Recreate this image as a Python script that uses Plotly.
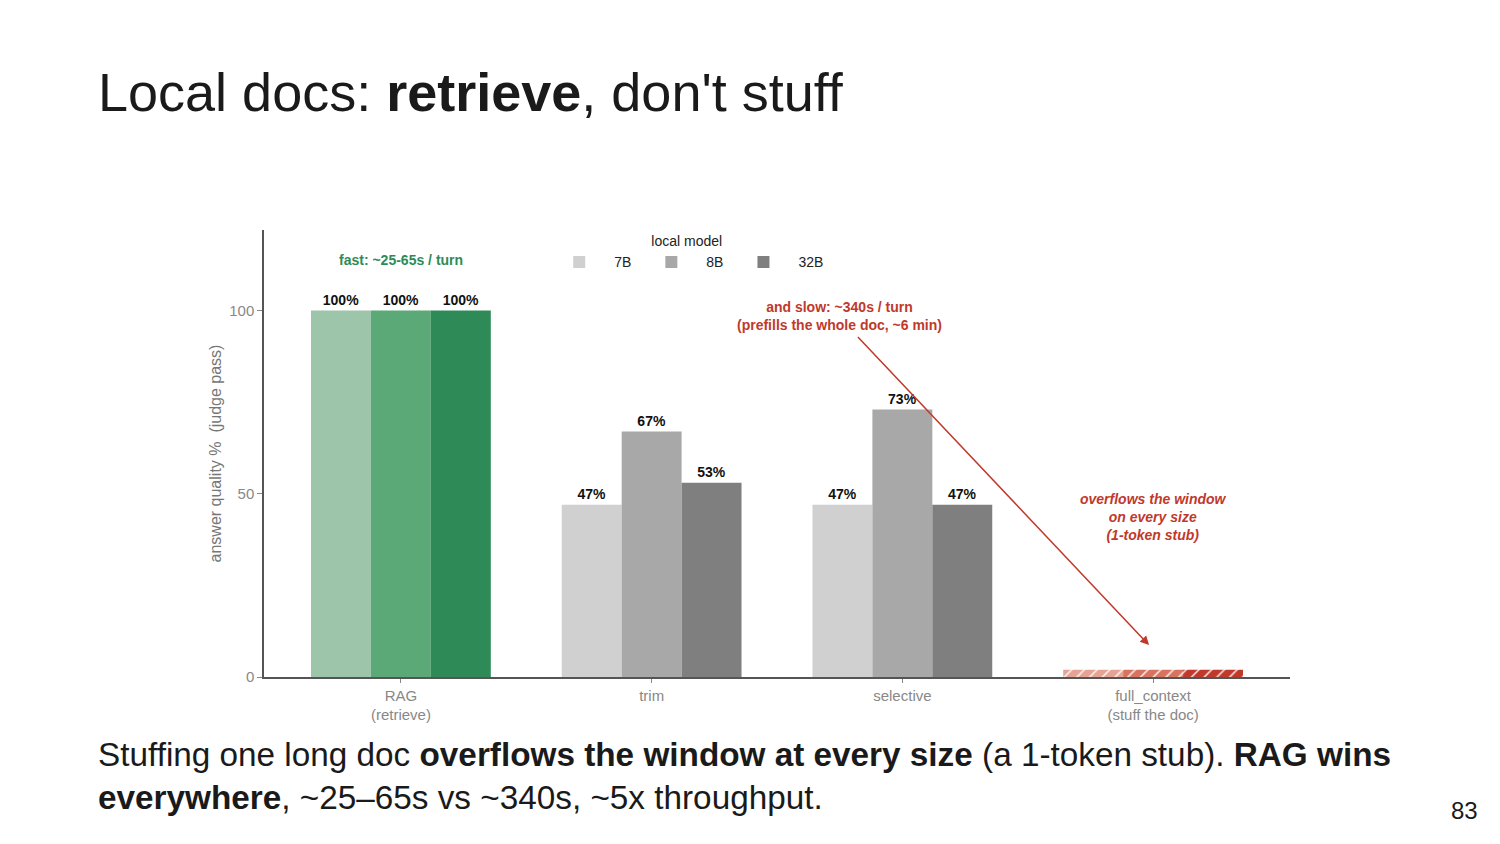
import plotly.graph_objects as go


CATEGORIES = ["RAG", "trim", "selective", "full_context"]
TICK_LABELS = ["RAG<br>(retrieve)", "trim", "selective", "full_context<br>(stuff the doc)"]
MODELS = ["7B", "8B", "32B"]

RAG_SCORES = {"7B": 100, "8B": 100, "32B": 100}
TRIM_SCORES = {"7B": 47, "8B": 67, "32B": 53}
SELECTIVE_SCORES = {"7B": 47, "8B": 73, "32B": 47}
FULL_CONTEXT_SCORES = {"7B": 2, "8B": 2, "32B": 2}

GREEN = {"7B": "#9dc5aa", "8B": "#5aa977", "32B": "#2e8b57"}
GRAY = {"7B": "#d0d0d0", "8B": "#a8a8a8", "32B": "#7f7f7f"}
RED = {"7B": "#e6a394", "8B": "#d8735f", "32B": "#c0392b"}

FONT = "Liberation Sans, Arial, sans-serif"
LABEL_FONT = dict(family=FONT, size=14, color="#111111", weight="bold")


def build_figure():
    fig = go.Figure()
    for model in MODELS:
        fig.add_trace(
            go.Bar(
                x=["RAG"],
                y=[RAG_SCORES[model]],
                name=model,
                offsetgroup=model,
                marker_color=GREEN[model],
                marker_line_width=0,
                text=[f"{RAG_SCORES[model]}%"],
                textposition="outside",
                textfont=LABEL_FONT,
                cliponaxis=False,
                showlegend=False,
            )
        )
        gray_y = [TRIM_SCORES[model], SELECTIVE_SCORES[model]]
        fig.add_trace(
            go.Bar(
                x=["trim", "selective"],
                y=gray_y,
                name=model,
                offsetgroup=model,
                marker_color=GRAY[model],
                marker_line_width=0,
                text=[f"{v}%" for v in gray_y],
                textposition="outside",
                textfont=LABEL_FONT,
                cliponaxis=False,
            )
        )
        fig.add_trace(
            go.Bar(
                x=["full_context"],
                y=[FULL_CONTEXT_SCORES[model]],
                name=model,
                offsetgroup=model,
                marker=dict(
                    color=RED[model],
                    line_width=0,
                    pattern=dict(
                        shape="/",
                        fillmode="replace",
                        bgcolor=RED[model],
                        fgcolor="white",
                        size=9,
                        solidity=0.15,
                    ),
                ),
                showlegend=False,
            )
        )

    # page body adds 8px offset, so margins are nudged to land on the slide positions
    fig.update_layout(
        width=1500,
        height=844,
        template="plotly_white",
        paper_bgcolor="white",
        plot_bgcolor="white",
        font=dict(family=FONT, color="#222222"),
        barmode="group",
        bargap=0.283,
        bargroupgap=0,
        margin=dict(l=256, r=218, t=222, b=175),
        legend=dict(
            orientation="h",
            x=0.412,
            y=1.004,
            xanchor="center",
            yanchor="top",
            title=dict(text="local model", side="top center", font=dict(size=14, color="#222")),
            font=dict(size=14, color="#222"),
            itemwidth=60,
            traceorder="normal",
        ),
    )
    fig.update_xaxes(
        categoryorder="array",
        categoryarray=CATEGORIES,
        tickvals=CATEGORIES,
        ticktext=TICK_LABELS,
        range=[-0.546, 3.546],
        showgrid=False,
        showline=True,
        linecolor="#555555",
        linewidth=1.5,
        ticks="outside",
        ticklen=4,
        tickcolor="#888888",
        tickfont=dict(size=15, color="#888888"),
    )
    fig.update_yaxes(
        range=[0, 122],
        tickvals=[0, 50, 100],
        showgrid=False,
        zeroline=False,
        showline=True,
        linecolor="#555555",
        linewidth=1.5,
        ticks="outside",
        ticklen=5,
        tickcolor="#888888",
        tickfont=dict(size=15, color="#888888"),
        title=dict(text="answer quality %  (judge pass)", font=dict(size=16, color="#777777"), standoff=4),
    )

    fig.add_annotation(
        x="RAG", y=113.7, text="<b>fast: ~25-65s / turn</b>", showarrow=False,
        font=dict(size=14, color="#2e8b57"),
    )
    fig.add_annotation(
        x=1.749, y=98.6, xref="x", yref="y",
        text="<b>and slow: ~340s / turn<br>(prefills the whole doc, ~6 min)</b>",
        showarrow=False, font=dict(size=14, color="#c0392b"),
    )
    fig.add_annotation(
        x=2.984, y=8.7, ax=1.817, ay=93.2, xref="x", yref="y", axref="x", ayref="y",
        text="", showarrow=True, arrowhead=2, arrowsize=1.2, arrowwidth=1.5,
        arrowcolor="#c0392b",
    )
    fig.add_annotation(
        x=3, y=43.7, xref="x", yref="y",
        text="<b><i>overflows the window<br>on every size<br>(1-token stub)</i></b>",
        showarrow=False, font=dict(size=14, color="#c0392b"),
    )

    # slide text
    fig.add_annotation(
        x=-0.1637, y=1.309, xref="paper", yref="paper", xanchor="left", yanchor="middle",
        text="Local docs: <b>retrieve</b>, don't stuff", showarrow=False,
        font=dict(size=54, color="#1a1a1a"),
    )
    fig.add_annotation(
        x=-0.1637, y=-0.222, xref="paper", yref="paper", xanchor="left", yanchor="middle",
        align="left",
        text=(
            "Stuffing one long doc <b>overflows the window at every size</b> "
            "(a 1-token stub). <b>RAG wins</b><br><b>everywhere</b>, ~25–65s vs ~340s, "
            "~5x throughput."
        ),
        showarrow=False, font=dict(size=33.3, color="#1a1a1a"),
    )
    fig.add_annotation(
        x=1.1696, y=-0.298, xref="paper", yref="paper", xanchor="center", yanchor="middle",
        text="83", showarrow=False, font=dict(size=24, color="#1a1a1a"),
    )
    return fig


def main():
    fig = build_figure()
    fig.write_html("out.html")


if __name__ == "__main__":
    main()
